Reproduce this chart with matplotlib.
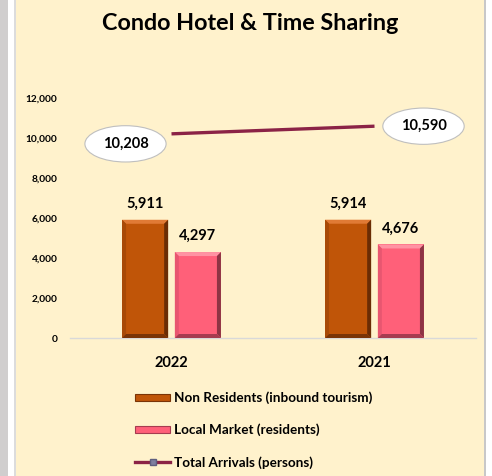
import matplotlib
matplotlib.use("Agg")
import matplotlib.pyplot as plt
from matplotlib.patches import Rectangle, Polygon
from matplotlib.lines import Line2D
from matplotlib.transforms import IdentityTransform
import numpy as np

plt.rcParams['font.family'] = ['Lato', 'DejaVu Sans']

title = "Condo Hotel & Time Sharing"
years = ["2022", "2021"]
non_residents = [5911, 5914]
local_market = [4297, 4676]
total_arrivals = [10208, 10590]
series_names = ["Non Residents (inbound tourism)", "Local Market (residents)", "Total Arrivals (persons)"]
yticks = [0, 2000, 4000, 6000, 8000, 10000, 12000]

W, H, DPI = 492, 476, 100
fig = plt.figure(figsize=(W / DPI, H / DPI), dpi=DPI)
fig.patch.set_facecolor("white")

def strip(x0, x1, color):
    fig.add_artist(Rectangle((x0 / W, 0), (x1 - x0) / W, 1, transform=fig.transFigure,
                             facecolor=color, edgecolor="none", zorder=-10))
strip(0, 8, "#D0CECE")
strip(14, 16, "#DCDCDC")
strip(16, 484, "#FFF2CC")
strip(484, 486, "#C8C8C8")

ax = fig.add_axes([70 / W, 138 / H, 406 / W, 240 / H])
ax.set_facecolor("none")
ax.set_xlim(-0.5, 1.5)
ax.set_ylim(0, 12000)
for s in ["left", "right", "top"]:
    ax.spines[s].set_visible(False)
ax.spines["bottom"].set_color("#D9D9D9")
ax.spines["bottom"].set_linewidth(1.0)
ax.set_yticks(yticks)
ax.set_yticklabels([f"{v:,}" for v in yticks], fontsize=7.3, fontweight="bold")
ax.tick_params(axis="y", length=0, pad=9)
x = np.arange(len(years))
ax.set_xticks(x)
ax.set_xticklabels(years, fontsize=10.5, fontweight="bold")
ax.tick_params(axis="x", length=0, pad=13)

bw = 0.227
off = 0.13
orange = "#C05508"
pink = "#FF6079"
b1 = ax.bar(x - off, non_residents, bw, color=orange, edgecolor="none", zorder=2)
b2 = ax.bar(x + off, local_market, bw, color=pink, edgecolor="none", zorder=2)

line_color = "#8B2346"
ax.plot(x, total_arrivals, color=line_color, linewidth=2.4, solid_capstyle="butt", zorder=3)

for rect, v in list(zip(b1, non_residents)) + list(zip(b2, local_market)):
    ax.annotate(f"{v:,}", (rect.get_x() + rect.get_width() / 2, v), xytext=(0, 16),
                textcoords="offset pixels", ha="center", va="center",
                fontsize=10.5, fontweight="bold")

offsets = [(-46, -10), (49, 0)]
for xi, v, o in zip(x, total_arrivals, offsets):
    ax.annotate(f"{v:,}", (xi, v), xytext=o, textcoords="offset pixels",
                ha="center", va="center", fontsize=10.5, fontweight="bold",
                bbox=dict(boxstyle="ellipse,pad=0.4", facecolor="white",
                          edgecolor="#BFBFBF", linewidth=0.8), zorder=5)

def bevel(bars, top, left, right, bottom, b=4):
    for r in bars:
        (x0, y0) = ax.transData.transform((r.get_x(), 0))
        (x1, y1) = ax.transData.transform((r.get_x() + r.get_width(), r.get_height()))
        polys = [
            ([(x0, y1), (x1, y1), (x1 - b, y1 - b), (x0 + b, y1 - b)], top),
            ([(x0, y0), (x0, y1), (x0 + b, y1 - b), (x0 + b, y0 + b)], left),
            ([(x1, y0), (x1, y1), (x1 - b, y1 - b), (x1 - b, y0 + b)], right),
            ([(x0, y0), (x1, y0), (x1 - b, y0 + b), (x0 + b, y0 + b)], bottom),
        ]
        for pts, c in polys:
            fig.add_artist(Polygon(pts, closed=True, facecolor=c, edgecolor="none",
                                   transform=IdentityTransform(), zorder=4))

bevel(b1, "#E07A35", "#A84A07", "#6A2C04", "#7A3406")
bevel(b2, "#FF93A3", "#E85670", "#8E3444", "#A63C50")

handles = [
    Rectangle((0, 0), 1, 1, facecolor=orange, edgecolor="#7A3406", linewidth=0.8),
    Rectangle((0, 0), 1, 1, facecolor=pink, edgecolor="#A63C50", linewidth=0.8),
    Line2D([0], [0], color=line_color, linewidth=2.4, marker="s", markersize=5,
           markerfacecolor="#7F7F9F", markeredgecolor="#5F5F7F"),
]
fig.legend(handles, series_names, loc="upper left", bbox_to_anchor=(130 / W, 1 - 386 / H),
           frameon=False, prop=dict(size=9.7, weight="bold"), handlelength=2.6,
           handleheight=0.45, handletextpad=0.25, labelspacing=1.45, borderaxespad=0)

fig.text(250 / W, 1 - 23 / H, title, ha="center", va="center", fontsize=16.8, fontweight="bold")

fig.savefig("out.png", dpi=DPI, facecolor=fig.get_facecolor())
